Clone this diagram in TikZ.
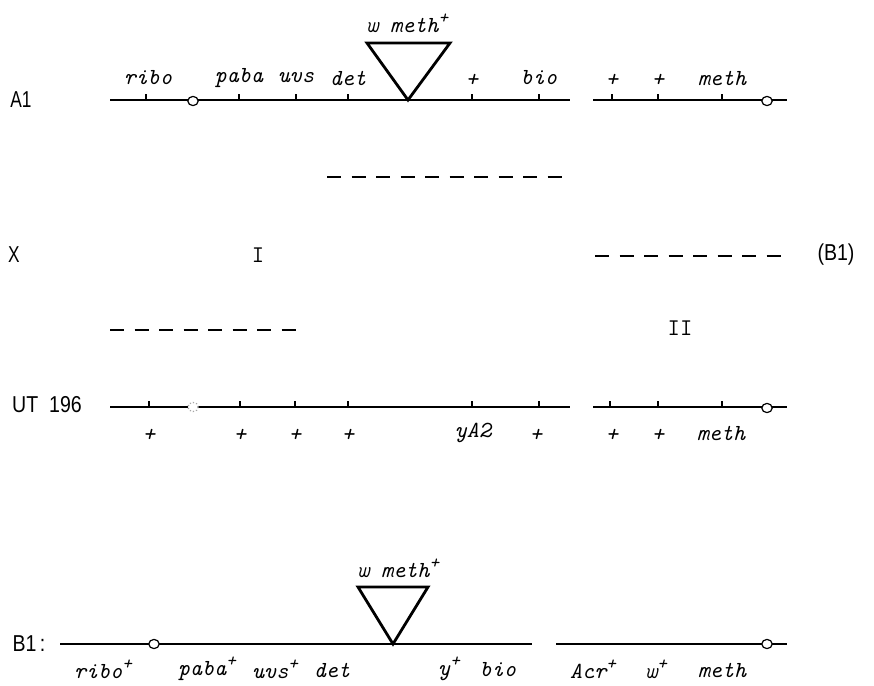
\documentclass[tikz,border=0pt]{standalone}
\usepackage{fontspec}
\setsansfont{Liberation Sans}
\usepackage{graphicx}
\newcommand{\plussup}{\raisebox{0.4em}{\fontsize{9}{9}\selectfont +}}
\begin{document}
\begin{tikzpicture}[x=0.5pt,y=-0.5pt,
  chrom/.style={line width=0.6pt},
  thickseg/.style={line width=1.1pt},
  tickmark/.style={line width=0.8pt},
  gene/.style={font=\ttfamily\itshape\fontsize{11.5}{13}\selectfont, inner sep=0pt},
  rowlab/.style={font=\sffamily\fontsize{11.5}{13}\selectfont, inner sep=0pt},
  roman/.style={font=\ttfamily\fontsize{12}{14}\selectfont, inner sep=0pt},
  centro/.style={line width=0.6pt, fill=white},
  loopbox/.style={line width=1.4pt, line join=miter},
  crossdash/.style={line width=0.9pt, dash pattern=on 7pt off 5.25pt}]
\useasboundingbox (0,0) rectangle (874,686);

% ---------------- row labels
\node[rowlab] (lA1) at (21,100) {\scalebox{0.75}[1]{A1}};
\node[rowlab] (lX) at (14,255) {\scalebox{0.75}[1]{X}};
\node[rowlab] (lUT) at (47,405) {\scalebox{0.85}[1]{UT\ \ 196}};
\node[rowlab] (lB1) at (29,644) {\scalebox{0.85}[1]{B1\,:}};
\node[rowlab] (lB1r) at (836,255) {\scalebox{0.85}[1]{(B1)}};
\node[roman] (rI) at (258,255) {I};
\node[roman] (rII) at (680,328) {II};

% ---------------- A1 chromosome
\coordinate (a1s) at (110,100);
\coordinate (a1m) at (570,100);
\coordinate (a1n) at (593,100);
\coordinate (a1e) at (787,100);
\draw[chrom] (a1s) -- (a1m);
\draw[chrom] (a1n) -- (a1e);
\foreach \x in {146,239,296,348,472,539,612,658,722}
  \draw[tickmark] (\x,100) -- (\x,94);
\draw[centro] (193,101) circle [x radius=2.6pt, y radius=2.3pt];
\draw[centro] (767,101) circle [x radius=2.6pt, y radius=2.3pt];
\coordinate (ta1) at (367,43);
\coordinate (tb1) at (450,43);
\coordinate (tc1) at (408,100);
\draw[loopbox] (ta1) -- (tb1) -- (tc1) -- cycle;
\node[gene] (a1w) at (407,23) {w meth\plussup};
\node[gene] (a1g1) at (148,78) {ribo};
\node[gene] (a1g2) at (239,78) {paba};
\node[gene] (a1g3) at (296,78) {uvs};
\node[gene] (a1g4) at (348,78) {det};
\node[gene] (a1g5) at (472,80) {+};
\node[gene] (a1g6) at (539,78) {bio};
\node[gene] (a1g7) at (612,80) {+};
\node[gene] (a1g8) at (658,80) {+};
\node[gene] (a1g9) at (722,78) {meth};

% ---------------- crossover dashes
\coordinate (d1s) at (327,177);
\coordinate (d1e) at (567,177);
\coordinate (d2s) at (595,256);
\coordinate (d2e) at (786,256);
\coordinate (d3s) at (110,330);
\coordinate (d3e) at (305,330);
\draw[crossdash] (d1s) -- (d1e);
\draw[crossdash] (d2s) -- (d2e);
\draw[crossdash] (d3s) -- (d3e);

% ---------------- UT 196 chromosome
\coordinate (uts) at (110,407);
\coordinate (utm) at (570,407);
\coordinate (utn) at (593,407);
\coordinate (ute) at (787,407);
\draw[chrom] (uts) -- (utm);
\draw[chrom] (utn) -- (ute);
\foreach \x in {149,240,295,348,472,539,610,658,722}
  \draw[tickmark] (\x,407) -- (\x,401);
\draw[centro, draw=black!35, densely dotted] (193,407) circle [x radius=2.6pt, y radius=2.3pt];
\draw[centro] (767,408) circle [x radius=2.6pt, y radius=2.3pt];
\node[gene] (utg1) at (149,435) {+};
\node[gene] (utg2) at (240,435) {+};
\node[gene] (utg3) at (295,435) {+};
\node[gene] (utg4) at (348,435) {+};
\node[gene] (utg5) at (473,433) {yA2};
\node[gene] (utg6) at (536,435) {+};
\node[gene] (utg7) at (612,435) {+};
\node[gene] (utg8) at (658,435) {+};
\node[gene] (utg9) at (721,433) {meth};

% ---------------- B1 chromosome
\coordinate (b1s) at (60,644);
\coordinate (b1m) at (532,644);
\coordinate (b1n) at (556,644);
\coordinate (b1e) at (787,644);
\draw[chrom] (b1s) -- (b1m);
\draw[chrom] (b1n) -- (b1e);
\draw[thickseg] (117,644) -- (150,644);
\draw[thickseg] (200,644) -- (250,644);
\draw[thickseg] (313,644) -- (353,644);
\draw[thickseg] (556,644) -- (570,644);
\draw[thickseg] (647,644) -- (658,644);
\draw[centro] (154,644) circle [x radius=2.6pt, y radius=2.3pt];
\draw[centro] (767,644) circle [x radius=2.6pt, y radius=2.3pt];
\coordinate (ta2) at (358,587);
\coordinate (tb2) at (428,587);
\coordinate (tc2) at (393,644);
\draw[loopbox] (ta2) -- (tb2) -- (tc2) -- cycle;
\node[gene] (b1w) at (398,568) {w meth\plussup};
\node[gene] (b1g1) at (103,669) {ribo\plussup};
\node[gene] (b1g2) at (207,669) {paba\plussup};
\node[gene] (b1g3) at (275,669) {uvs\plussup};
\node[gene] (b1g4) at (332,670) {det};
\node[gene] (b1g5) at (449,669) {y\plussup};
\node[gene] (b1g6) at (498,670) {bio};
\node[gene] (b1g7) at (593,669) {Acr\plussup};
\node[gene] (b1g8) at (656,669) {w\plussup};
\node[gene] (b1g9) at (722,670) {meth};
\end{tikzpicture}
\end{document}
